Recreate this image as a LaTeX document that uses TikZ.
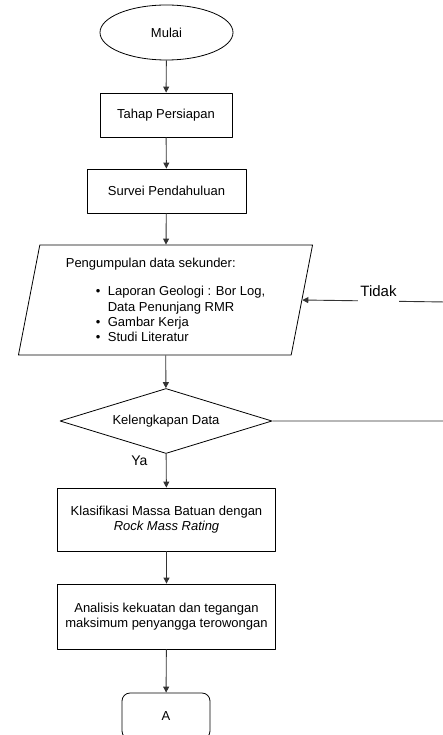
\documentclass[tikz,border=0pt]{standalone}
\usepackage{fontspec}
\setmainfont{Liberation Sans}
\usetikzlibrary{shapes.geometric,arrows.meta}

\newcommand{\butir}{\hspace*{30pt}\makebox[12pt][l]{\textbullet}}

\begin{document}
\begin{tikzpicture}[x=1pt, y=-1pt, >={Triangle[length=6pt,width=6pt]}, line join=round,
	font=\fontsize{13}{15.3}\selectfont,
	garis/.style={->, draw=black!80, line width=0.9pt},
	kotak/.style={draw, line width=0.8pt, rectangle, inner sep=2pt, align=center}]
	\useasboundingbox (0,0) rectangle (443,735);
	
	% BAGIAN ATAS: mulai dan persiapan
	\node[draw, line width=0.8pt, ellipse, minimum width=133pt, minimum height=55pt, inner sep=0pt] (mulai) at (166.5,32.5) {Mulai};
	\node[kotak, minimum width=132pt, minimum height=44pt] (persiapan) at (166,115) {Tahap Persiapan};
	\node[kotak, minimum width=159pt, minimum height=44pt] (survei) at (166.5,191) {Survei Pendahuluan};
	
	% DATA SEKUNDER
	\node[draw, line width=0.8pt, trapezium, trapezium left angle=79, trapezium right angle=101,
		trapezium stretches=true, minimum width=295pt, minimum height=110pt, inner sep=3pt, align=left] (data) at (165.5,300)
		{Pengumpulan data sekunder:\\[13pt]
		\butir Laporan Geologi : Bor Log,\\
		\hspace*{42pt}Data Penunjang RMR\\
		\butir Gambar Kerja\\
		\butir Studi Literatur};
	
	% KEPUTUSAN
	\node[draw, line width=0.8pt, diamond, aspect=3.3, inner sep=1pt, minimum width=212pt, minimum height=65pt] (cek) at (166,421) {Kelengkapan Data};
	\coordinate (balik) at (446,302);
	
	% BAGIAN BAWAH: analisis
	\node[kotak, minimum width=218pt, minimum height=63pt] (rmr) at (166.5,519.5) {Klasifikasi Massa Batuan dengan\\ \textit{Rock Mass Rating}};
	\node[kotak, minimum width=218pt, minimum height=65pt] (analisis) at (166.5,616.5) {Analisis kekuatan dan tegangan\\ maksimum penyangga terowongan};
	\node[draw, line width=0.8pt, rounded corners=8pt, minimum width=88pt, minimum height=46pt] (lanjut) at (166,716) {A};
	
	% PANAH
	\draw[garis] (mulai) -- (persiapan);
	\draw[garis] (persiapan) -- (survei);
	\draw[garis] (survei) -- (data);
	\draw[garis] (data) -- (cek);
	\draw[garis] (cek) -- node[pos=0.2, left, font=\fontsize{14}{16}\selectfont, xshift=-15pt] {Ya} (rmr);
	\draw[garis] (rmr) -- (analisis);
	\draw[garis] (analisis) -- (lanjut);
	\draw[garis] (cek.east) -| (balik) -- node[pos=0.47, anchor=base, yshift=5pt, fill=white, inner xsep=2pt, inner ysep=1pt, text depth=6pt, font=\fontsize{15}{17}\selectfont] {Tidak} (data.east);
\end{tikzpicture}
\end{document}
